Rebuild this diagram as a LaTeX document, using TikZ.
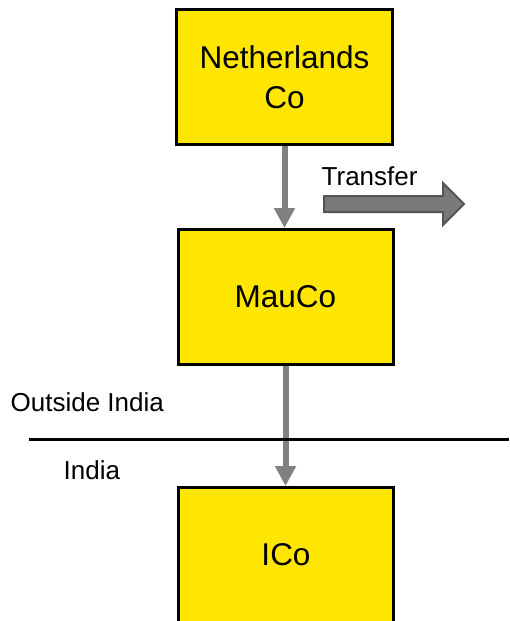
\documentclass[tikz,border=0pt]{standalone}
\usepackage{fontspec}
\setmainfont{Liberation Sans}
\usetikzlibrary{arrows.meta}
\definecolor{boxyellow}{HTML}{FFE600}
\definecolor{arrowgray}{HTML}{808080}
\definecolor{blockgray}{HTML}{7A7A7A}
\definecolor{blockedge}{HTML}{555555}
\tikzset{
  entity/.style={draw=black, line width=3pt, fill=boxyellow, minimum width=216pt,
    minimum height=135pt, inner sep=0pt, align=center,
    font=\fontsize{31.5}{40}\selectfont},
  flow/.style={draw=arrowgray, line width=6pt,
    -{Triangle[width=20pt,length=20pt]}, shorten >=0pt},
  lbl/.style={inner sep=0pt, anchor=base west, font=\fontsize{26}{30}\selectfont},
}
\begin{document}
\begin{tikzpicture}[x=1pt,y=-1pt]
\useasboundingbox (0,0) rectangle (509,621);
\clip (0,0) rectangle (509,621);
\node[entity] (nl) at (284.5,77) {Netherlands\\Co};
\node[entity, minimum width=215pt] (mau) at (285.5,297) {MauCo};
\node[entity, minimum width=215pt] (ico) at (286,555) {ICo};
\draw[flow] (nl.south) -- (nl.south |- mau.north);
\draw[flow] (mau.south) -- (mau.south |- ico.north);
\coordinate (lineL) at (29,439);
\coordinate (lineR) at (509,439);
\draw[line width=3pt] (lineL) -- (lineR);
\node[lbl] (outside) at (10.5,411) {Outside India};
\node[lbl] (india) at (63.5,479) {India};
\node[lbl] (transfer) at (321.5,185) {Transfer};
\draw[fill=blockgray, draw=blockedge, line width=2pt, line join=miter]
  (324,196) -- (443,196) -- (443,183) -- (464,204) -- (443,225) -- (443,212) -- (324,212) -- cycle;
\end{tikzpicture}
\end{document}
